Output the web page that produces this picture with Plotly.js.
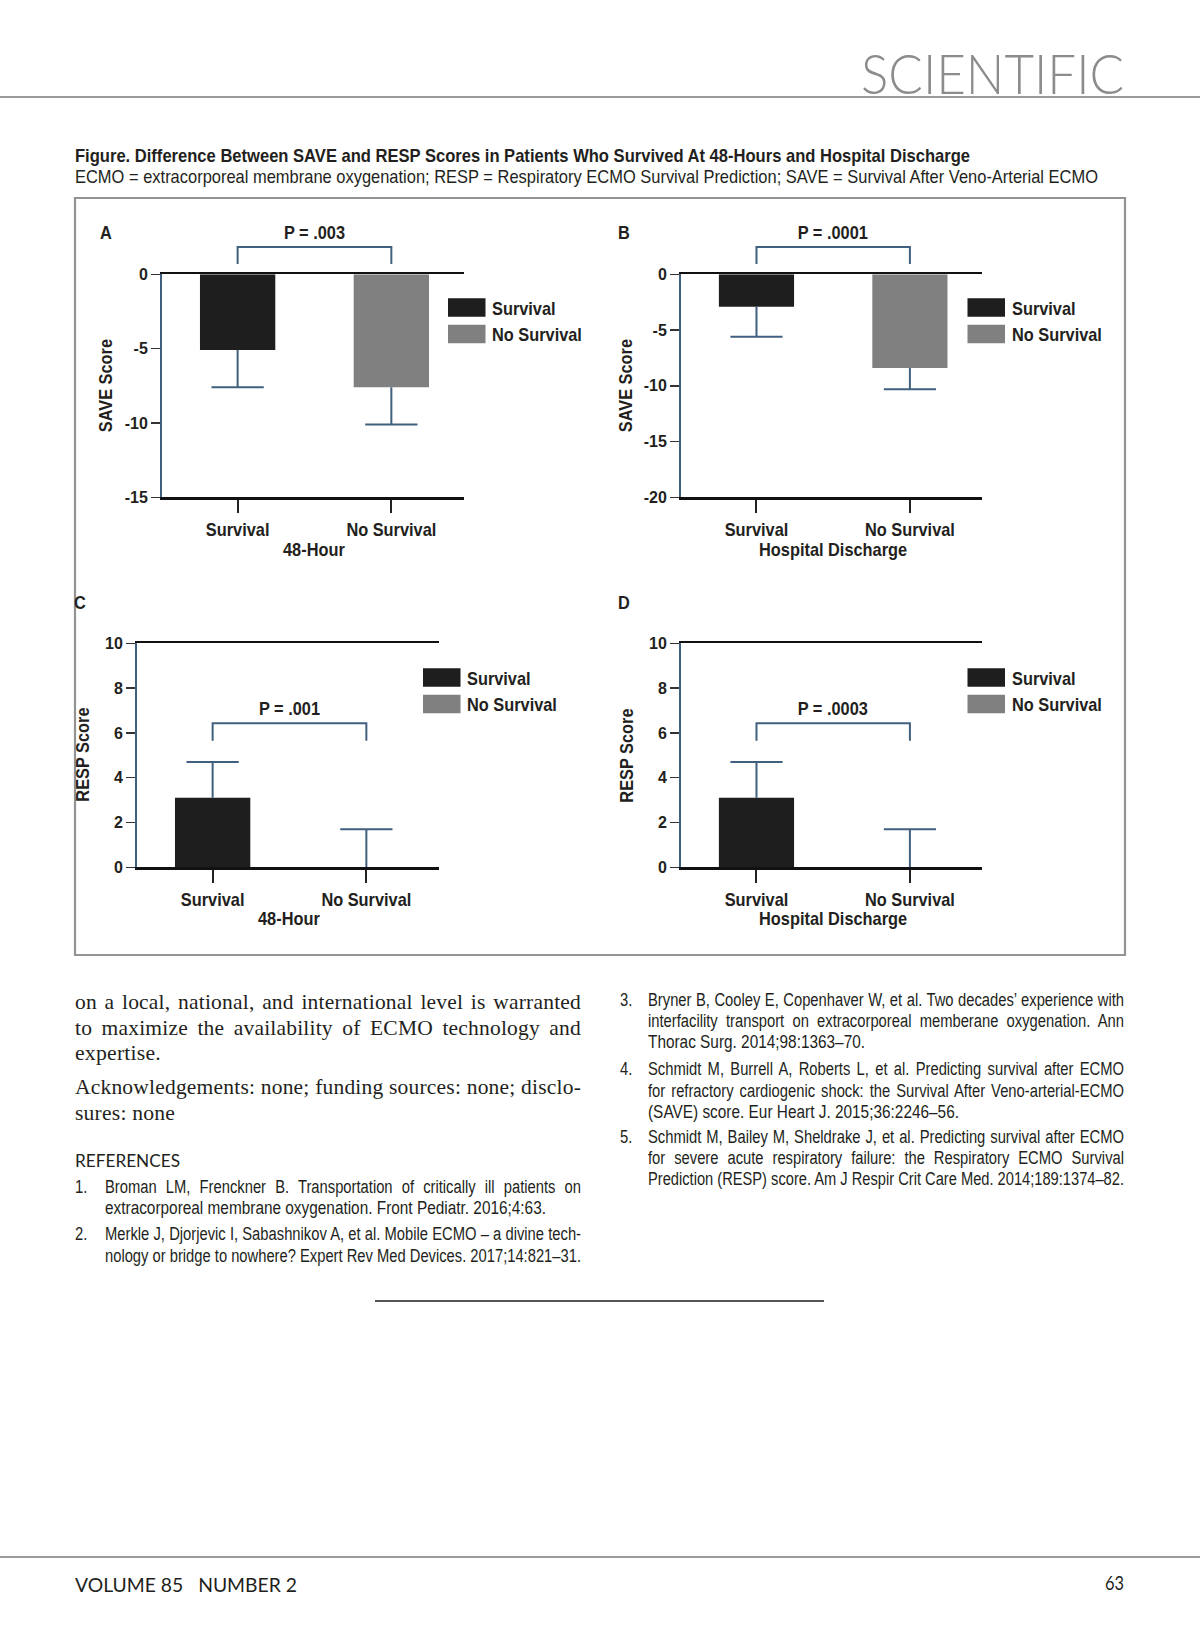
<!DOCTYPE html>
<html><head><meta charset="utf-8">
<script src="https://cdn.plot.ly/plotly-3.0.1.min.js"></script>
<style>
html,body{margin:0;padding:0;background:#fff;}
#page{position:relative;width:1200px;height:1650px;overflow:hidden;background:#fff;}
#chart{position:absolute;left:0;top:0;width:1200px;height:1650px;}
.t{position:absolute;white-space:nowrap;color:#231f20;transform-origin:0 50%;}
.sans{font-family:'Liberation Sans',Arial,sans-serif;}
.serif{font-family:'Liberation Serif','DejaVu Serif',serif;}
.gill{font-family:Lato,'Open Sans',sans-serif;}
.rule{position:absolute;}
</style></head>
<body><div id="page"><div id="chart"></div></div>
<script>
// ---------------- DATA ----------------
const groups = ['Survival', 'No Survival'];
const saveHour48Mean = [-5.1, -7.6];
const saveHour48SD = [2.5, 2.5];
const saveDischargeMean = [-2.9, -8.4];
const saveDischargeSD = [2.7, 1.9];
const respHour48Mean = [3.1, 0];
const respHour48SD = [1.6, 1.7];
const respDischargeMean = [3.1, 0];
const respDischargeSD = [1.6, 1.7];
const pValues = ['P = .003', 'P = .0001', 'P = .001', 'P = .0003'];
const timepoints = ['48-Hour', 'Hospital Discharge', '48-Hour', 'Hospital Discharge'];
const scoreNames = ['SAVE Score', 'SAVE Score', 'RESP Score', 'RESP Score'];
const panelLetters = ['A', 'B', 'C', 'D'];
const yRanges = [[-15, 0], [-20, 0], [0, 10], [0, 10]];
const yTickVals = [[0, -5, -10, -15], [0, -5, -10, -15, -20], [0, 2, 4, 6, 8, 10], [0, 2, 4, 6, 8, 10]];
const yTickText = [['0', '-5', '-10', '-15'], ['0', '-5', '-10', '-15', '-20'],
                   ['0', '2', '4', '6', '8', '10'], ['0', '2', '4', '6', '8', '10']];

// ---------------- LAYOUT (pixels) ----------------
const W = 1200, H = 1650;
const fx = p => p / W, fy = p => 1 - p / H;
const SANS = "'Liberation Sans',Arial,sans-serif";
const BLUE = '#41607f', INK = '#231f20';
const barColors = ['#1e1e1e', '#808080'];
const XR = [-0.492, 1.47];

const geo = [
  {px:[162,463.6], py:[274.3,497.3], letter:[106,232], pY:232, brTop:247, brLeg:264, yt:106, xt:549, leg:[448,298.3]},
  {px:[681,982],   py:[274.3,497.3], letter:[624,232], pY:232, brTop:247, brLeg:264, yt:626, xt:549, leg:[967.5,298.3]},
  {px:[137,438.6], py:[643.3,867.3], letter:[80,602],  pY:708, brTop:723.3, brLeg:740.7, yt:82, xt:918.5, leg:[423,668.3]},
  {px:[681,982],   py:[643.3,867.3], letter:[624,602], pY:708, brTop:723.3, brLeg:740.7, yt:626, xt:918.5, leg:[967.5,668.3]}
];
const means = [saveHour48Mean, saveDischargeMean, respHour48Mean, respDischargeMean];
const sds = [saveHour48SD, saveDischargeSD, respHour48SD, respDischargeSD];

const traces = [], annotations = [], shapes = [];
const layout = {
  width: W, height: H, margin:{l:0,r:0,t:0,b:0},
  paper_bgcolor:'rgba(0,0,0,0)', plot_bgcolor:'rgba(0,0,0,0)',
  showlegend:false, barmode:'overlay',
  font:{family:SANS, color:INK}
};
const bold = (size) => ({family:SANS, size:size, color:INK, weight:700});

shapes.push({type:'rect', xref:'paper', yref:'paper', x0:fx(75), x1:fx(1125), y0:fy(955), y1:fy(198),
  line:{color:'#939393', width:2.2}});

geo.forEach((g, i) => {
  const n = i === 0 ? '' : String(i + 1);
  const xa = 'x' + n, ya = 'y' + n;
  layout['xaxis' + n] = {
    domain:[fx(g.px[0]), fx(g.px[1])], anchor:ya, range:XR,
    tickvals:[0, 1], ticktext:groups, showline:true, mirror:true, linecolor:'#111', linewidth:2.5,
    ticks:'outside', ticklen:13, tickwidth:2, tickcolor:'#222', showgrid:false, zeroline:false,
    tickfont:bold(19), fixedrange:true
  };
  layout['yaxis' + n] = {
    domain:[fy(g.py[1]), fy(g.py[0])], anchor:xa, range:yRanges[i],
    tickmode:'array', tickvals:yTickVals[i], ticktext:yTickText[i],
    showline:true, linecolor:BLUE, linewidth:2, ticks:'outside', ticklen:9, tickwidth:1.5, tickcolor:'#333',
    showgrid:false, zeroline:false, tickfont:bold(16), fixedrange:true
  };
  traces.push({type:'bar', x:[0, 1], y:means[i], width:0.49, xaxis:xa, yaxis:ya,
    marker:{color:barColors, line:{width:0}}, hoverinfo:'skip'});
  // one-sided error bars (away from zero)
  const sign = yRanges[i][1] <= 0 ? -1 : 1, cap = 0.17;
  const ex = [], ey = [];
  means[i].forEach((m, k) => {
    const end = m + sign * sds[i][k];
    ex.push(k, k, null, k - cap, k + cap, null);
    ey.push(m, end, null, end, end, null);
  });
  traces.push({type:'scatter', mode:'lines', x:ex, y:ey, xaxis:xa, yaxis:ya,
    line:{color:BLUE, width:2}, hoverinfo:'skip', connectgaps:false});
  // significance bracket
  shapes.push({type:'path', xref:xa, yref:'paper',
    path:`M0,${fy(g.brLeg)} L0,${fy(g.brTop)} L1,${fy(g.brTop)} L1,${fy(g.brLeg)}`,
    line:{color:BLUE, width:2}});
  annotations.push({xref:xa, yref:'paper', x:0.5, y:fy(g.pY), text:pValues[i], showarrow:false,
    xanchor:'center', yanchor:'middle', font:bold(19)});
  annotations.push({xref:'paper', yref:'paper', x:fx(g.letter[0]), y:fy(g.letter[1]), text:panelLetters[i],
    showarrow:false, xanchor:'center', yanchor:'middle', font:bold(19)});
  annotations.push({xref:xa, yref:'paper', x:0.5, y:fy(g.xt), text:timepoints[i], showarrow:false,
    xanchor:'center', yanchor:'middle', font:bold(19)});
  annotations.push({xref:'paper', yref:'paper', x:fx(g.yt), y:fy((g.py[0] + g.py[1]) / 2), text:scoreNames[i],
    textangle:-90, showarrow:false, xanchor:'center', yanchor:'middle', font:bold(19)});
  // legend swatches + labels
  groups.forEach((name, k) => {
    const top = g.leg[1] + k * 26.5;
    shapes.push({type:'rect', xref:'paper', yref:'paper', x0:fx(g.leg[0]), x1:fx(g.leg[0] + 37.5),
      y0:fy(top + 18.5), y1:fy(top), fillcolor:barColors[k], line:{width:0}});
    annotations.push({xref:'paper', yref:'paper', x:fx(g.leg[0] + 42), y:fy(top + 10), text:name,
      showarrow:false, xanchor:'left', yanchor:'middle', align:'left', font:bold(19)});
  });
});
layout.shapes = shapes;
layout.annotations = annotations;

// condense SVG text (reference uses a narrow bold face); numeric y tick labels keep normal width
function condense() {
  document.querySelectorAll('#chart svg text').forEach(t => {
    if (!t.textContent.trim()) return;
    const p = t.parentNode && t.parentNode.getAttribute('class') || '';
    if (/^y\d*tick$/.test(p)) return;
    const len = t.getComputedTextLength();
    if (len > 0) {
      t.setAttribute('textLength', (len * 0.86).toFixed(2));
      t.setAttribute('lengthAdjust', 'spacingAndGlyphs');
    }
  });
}
Plotly.newPlot('chart', traces, layout, {staticPlot:true, displayModeBar:false}).then(condense);

// ---------------- PAGE TEXT ----------------
const page = document.getElementById('page');
// place a single line so that it spans exactly [left, left+width]
function line(cls, left, cy, size, text, width, opts) {
  opts = opts || {};
  const k = opts.k || 1;
  const d = document.createElement('div');
  d.className = 't ' + cls;
  d.style.left = left + 'px';
  d.style.fontSize = size + 'px';
  d.style.lineHeight = (size * 1.3) + 'px';
  d.style.top = (cy - size * 0.65) + 'px';
  if (opts.style) Object.assign(d.style, opts.style);
  d.textContent = text;
  page.appendChild(d);
  const w = d.getBoundingClientRect().width;
  let scale = k;
  if (width) {
    const spaces = (text.match(/ /g) || []).length;
    if (opts.exact || !spaces || w * k > width) scale = width / w;
    else d.style.wordSpacing = ((width / k - w) / spaces) + 'px';
  }
  d.style.transform = `scaleX(${scale})`;
  return d;
}
function rule(x, y, w, h, c) {
  const d = document.createElement('div');
  d.className = 'rule';
  Object.assign(d.style, {left:x + 'px', top:y + 'px', width:w + 'px', height:h + 'px', background:c});
  page.appendChild(d);
}
// header
line('gill', 861, 73, 56, 'SCIENTIFIC', 263, {exact:true, style:{color:'#8c8c8c', fontWeight:'300'}});
rule(0, 96, 1200, 2, '#9a9a9a');
// caption
line('sans', 75, 156, 18.5, 'Figure. Difference Between SAVE and RESP Scores in Patients Who Survived At 48-Hours and Hospital Discharge', 895, {exact:true, style:{fontWeight:'700'}});
line('sans', 75, 177, 18.5, 'ECMO = extracorporeal membrane oxygenation; RESP = Respiratory ECMO Survival Prediction; SAVE = Survival After Veno-Arterial ECMO', 1023, {exact:true});

// body column
[
  [1003, 'on a local, national, and international level is warranted', 506, false],
  [1028.5, 'to maximize the availability of ECMO technology and', 506, false],
  [1054, 'expertise.', 86, true],
  [1088, 'Acknowledgements: none; funding sources: none; disclo-', 506, false],
  [1113.5, 'sures: none', 100, true]
].forEach(([cy, s, w, ex]) => line('serif', 75, cy, 21.5, s, w, {k:1, exact:ex, style:{letterSpacing:'0.2px'}}));

line('gill', 75, 1161, 18, 'REFERENCES', 105, {exact:true});

const RK = 0.82, RS = 18;
function ref(numX, textX, num, lines) {
  lines.forEach(([cy, s, w, ex], k) => {
    if (k === 0) line('sans', numX, cy, RS, num, null, {k:RK});
    line('sans', textX, cy, RS, s, w, {k:RK, exact:ex});
  });
}
ref(75, 105, '1.', [
  [1188, 'Broman LM, Frenckner B. Transportation of critically ill patients on', 476, false],
  [1209, 'extracorporeal membrane oxygenation. Front Pediatr. 2016;4:63.', 441, true]]);
ref(75, 105, '2.', [
  [1235, 'Merkle J, Djorjevic I, Sabashnikov A, et al. Mobile ECMO – a divine tech-', 476, false],
  [1257, 'nology or bridge to nowhere? Expert Rev Med Devices. 2017;14:821–31.', 476, false]]);
ref(620, 648, '3.', [
  [1001, 'Bryner B, Cooley E, Copenhaver W, et al. Two decades’ experience with', 476, false],
  [1022, 'interfacility transport on extracorporeal memberane oxygenation. Ann', 476, false],
  [1043, 'Thorac Surg. 2014;98:1363–70.', 217, true]]);
ref(620, 648, '4.', [
  [1070, 'Schmidt M, Burrell A, Roberts L, et al. Predicting survival after ECMO', 476, false],
  [1092, 'for refractory cardiogenic shock: the Survival After Veno-arterial-ECMO', 476, false],
  [1113, '(SAVE) score. Eur Heart J. 2015;36:2246–56.', 311, true]]);
ref(620, 648, '5.', [
  [1138, 'Schmidt M, Bailey M, Sheldrake J, et al. Predicting survival after ECMO', 476, false],
  [1159, 'for severe acute respiratory failure: the Respiratory ECMO Survival', 476, false],
  [1180, 'Prediction (RESP) score. Am J Respir Crit Care Med. 2014;189:1374–82.', 476, false]]);

rule(375, 1300, 449, 1.5, '#555');
rule(0, 1556, 1200, 2, '#9a9a9a');
line('gill', 75, 1584, 20, 'VOLUME 85   NUMBER 2', 222, {exact:true, style:{whiteSpace:'pre'}});
line('gill', 1105, 1582, 20, '63', 19, {exact:true});
</script></body></html>
